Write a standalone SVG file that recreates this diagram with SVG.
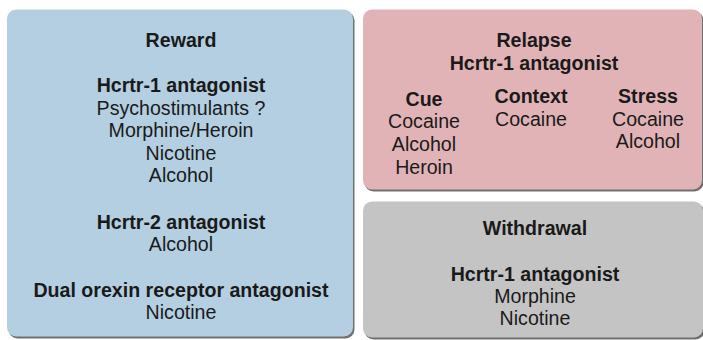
<svg xmlns="http://www.w3.org/2000/svg" width="703" height="340" viewBox="0 0 703 340">
<defs>
<style>
.box{stroke:none}
.shadow{fill:#707070}
text{font-family:"Liberation Sans",Arial,sans-serif;font-size:19.6px;fill:#1a1a1a;text-anchor:middle}
.b{font-weight:bold}
</style>
</defs>
<rect width="703" height="340" fill="#ffffff"/>
<g id="reward">
<rect class="shadow" x="8.5" y="11.5" width="346" height="327" rx="9"/>
<rect class="box" x="7" y="9.5" width="346" height="327" rx="9" fill="#b4cfe1"/>
<text class="b" x="181" y="47">Reward</text>
<text class="b" x="181" y="92">Hcrtr-1 antagonist</text>
<text x="181" y="115">Psychostimulants ?</text>
<text x="181" y="137">Morphine/Heroin</text>
<text x="181" y="159.5">Nicotine</text>
<text x="181" y="182">Alcohol</text>
<text class="b" x="181" y="229">Hcrtr-2 antagonist</text>
<text x="181" y="251">Alcohol</text>
<text class="b" x="181" y="297">Dual orexin receptor antagonist</text>
<text x="181" y="319">Nicotine</text>
</g>
<g id="relapse">
<rect class="shadow" x="364.5" y="11.5" width="339" height="180" rx="9"/>
<rect class="box" x="363" y="9.5" width="339" height="180" rx="9" fill="#e1b3b7"/>
<text class="b" x="534" y="47">Relapse</text>
<text class="b" x="534" y="70">Hcrtr-1 antagonist</text>
<text class="b" x="424" y="106">Cue</text>
<text x="424" y="128">Cocaine</text>
<text x="424" y="151">Alcohol</text>
<text x="424" y="174">Heroin</text>
<text class="b" x="531" y="103">Context</text>
<text x="531" y="126">Cocaine</text>
<text class="b" x="648" y="103">Stress</text>
<text x="648" y="126">Cocaine</text>
<text x="648" y="148">Alcohol</text>
</g>
<g id="withdrawal">
<rect class="shadow" x="364.5" y="203.5" width="340" height="136" rx="9"/>
<rect class="box" x="363" y="201.5" width="340" height="136" rx="9" fill="#c4c4c4"/>
<text class="b" x="535" y="235">Withdrawal</text>
<text class="b" x="535" y="281">Hcrtr-1 antagonist</text>
<text x="535" y="303">Morphine</text>
<text x="535" y="325">Nicotine</text>
</g>
<g id="connectors"></g>
</svg>
